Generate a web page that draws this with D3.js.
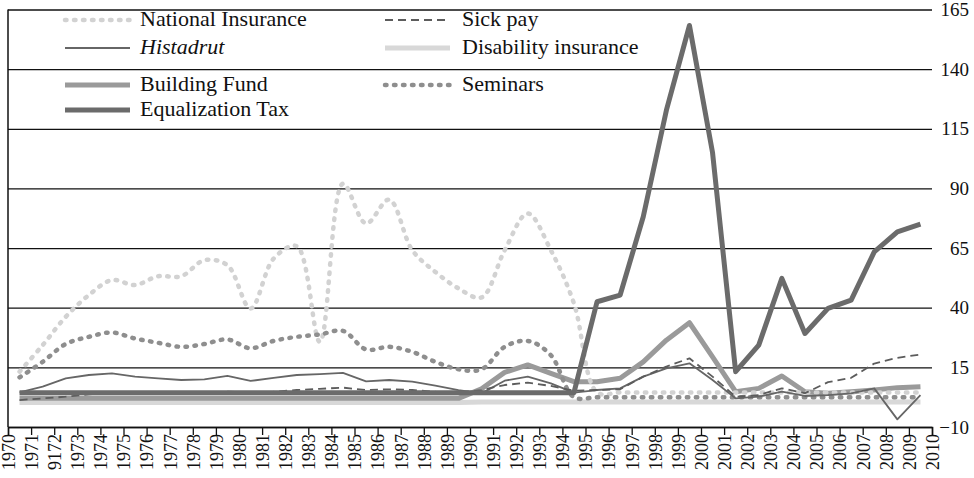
<!DOCTYPE html>
<html><head><meta charset="utf-8">
<script src="https://cdn.jsdelivr.net/npm/d3@7"></script>
<style>
html,body{margin:0;padding:0;background:#fff;}
svg text{font-family:"Liberation Serif","DejaVu Serif",serif;fill:#111;}
</style></head>
<body>
<svg id="chart" width="974" height="478"></svg>
<script>
// ---- data ----
const tickLabels = ["1970","1971","9172","1973","1974","1975","1976","1977","1978","1979","1980","1981","1982","1983","1984","1985","1986","1987","1988","1989","1990","1991","1992","1993","1994","1995","1996","1997","1998","1999","2000","2001","2002","2003","2004","2005","2006","2007","2008","2009","2010"];
const yTicks = [-10, 15, 40, 65, 90, 115, 140, 165];

const nationalInsurance = [13.2,24.3,36.2,45.3,51.6,49.5,53.2,53.2,59.9,57.8,39.7,60.6,65.8,25.7,92,75.3,85.3,64.1,55,48.1,44.3,64.1,79.5,64.1,41.8,4.5,4.5,4.5,4.5,4.5,4.5,4.5,4.5,4.5,4.5,4.5,4.5,4.5,4.5,4.5];
const sickPay = [1.3,2,2.7,3.7,4.1,4.1,4.1,4.1,4.1,4.8,4.4,4.8,5.5,6,6.5,5.5,5.8,5.5,4.8,4.4,5.5,7.6,8.6,7.2,5.2,5.5,5.8,11.1,15.3,18.8,11.1,2.7,3.4,6.2,4.2,8.8,10.6,16.6,19,20.4];
const histadrut = [4.5,6.9,10.4,11.8,12.5,11.1,10.4,9.7,10,11.4,9.3,10.6,11.8,12.2,12.7,9.1,9.7,9,7.3,5.5,4.1,9.4,11.1,8.3,4.4,5.5,6.2,11.1,14.6,16.7,9.7,2,2.7,4.8,3,3.4,4.1,6.2,-6.8,3.4];
const disabilityInsurance = [0.3,0.3,0.3,0.3,0.3,0.3,0.3,0.3,0.3,0.3,0.3,0.3,0.3,0.3,0.3,0.3,0.3,0.3,0.3,0.3,0.5,0.5,0.5,0.5,0.5,0.5,0.5,0.5,0.5,0.5,0.5,0.5,0.5,0.5,0.5,0.5,0.5,0.5,0.5,0.5];
const buildingFund = [2,2,2,2,2,2,2,2,2,2,2,2,2,2,2,2,2,2,2,2,6,12.9,16,12.5,9,9,10.4,17.3,26.4,33.7,19.4,4.8,6.2,11.4,4.8,4.1,4.8,5.5,6.5,6.9];
const seminars = [10.8,17.3,24.8,27.8,29.6,27.1,25.3,23.6,24.8,26.7,23,26.1,27.8,28.8,30.3,22.5,23.6,21.5,17.3,14.2,14.2,23.6,26.1,20.1,2.5,2.5,2.5,2.5,2.5,2.5,2.5,2.5,2.5,2.5,2.5,2.5,2.5,2.5,2.5,2.5];
const equalizationTax = [4.4,4.4,4.4,4.4,4.4,4.4,4.4,4.4,4.4,4.4,4.4,4.4,4.4,4.4,4.4,4.4,4.4,4.4,4.4,4.4,4.4,4.4,4.4,4.4,4.4,42.5,45.3,78.1,122.7,158.3,105,13.2,24.3,52.3,29.2,39.7,43.2,63.4,71.8,75];

const seriesNames = ["National Insurance","Sick pay","Histadrut","Disability insurance","Building Fund","Seminars","Equalization Tax"];

// ---- styles ----
const styles = {
  "National Insurance": {color:"#d2d2d2", width:4.5, dash:"1.5 7.5", cap:"round", smooth:true},
  "Sick pay": {color:"#5c5c5c", width:1.8, dash:"8 5", cap:"butt"},
  "Histadrut": {color:"#666666", width:1.8, dash:null, cap:"butt"},
  "Disability insurance": {color:"#d8d8d8", width:5, dash:null, cap:"butt"},
  "Building Fund": {color:"#9a9a9a", width:5, dash:null, cap:"butt"},
  "Seminars": {color:"#8e8e8e", width:4.5, dash:"1.5 7.5", cap:"round", smooth:true},
  "Equalization Tax": {color:"#6b6b6b", width:5, dash:null, cap:"butt"}
};
const seriesData = {
  "National Insurance": nationalInsurance,
  "Sick pay": sickPay,
  "Histadrut": histadrut,
  "Disability insurance": disabilityInsurance,
  "Building Fund": buildingFund,
  "Seminars": seminars,
  "Equalization Tax": equalizationTax
};

const svg = d3.select("#chart");
const mLeft = 8, mRight = 932, mTop = 9.5, mBottom = 427;
const x = d3.scaleLinear().domain([0, 40]).range([mLeft, mRight]);
const y = d3.scaleLinear().domain([-10, 165]).range([mBottom, mTop]);

// gridlines
svg.append("g").attr("transform", `translate(${mLeft},0)`)
  .call(d3.axisRight(y).tickValues(yTicks).tickSize(mRight-mLeft).tickFormat(""))
  .call(g => g.select(".domain").remove())
  .call(g => g.selectAll("line").attr("stroke", "#111").attr("stroke-width", 1.3));

// left frame line
svg.append("line").attr("x1", mLeft).attr("x2", mLeft).attr("y1", y(165)).attr("y2", mBottom)
  .attr("stroke", "#111").attr("stroke-width", 1.5);

// right labels
svg.append("g").attr("transform", `translate(${mRight},0)`)
  .call(d3.axisRight(y).tickValues(yTicks).tickSize(0).tickPadding(37))
  .call(g => g.select(".domain").remove())
  .call(g => g.selectAll("text").attr("text-anchor", "end").attr("font-size", 19)
      .style("font-family", '"Liberation Serif",serif'));

// x axis
const xAxis = svg.append("g").attr("transform", `translate(0,${mBottom})`)
  .call(d3.axisBottom(x).tickValues(d3.range(41)).tickSize(8).tickFormat(i => tickLabels[i]));
xAxis.select(".domain").attr("stroke", "#111").attr("stroke-width", 1.5);
xAxis.selectAll(".tick line").attr("stroke", "#111").attr("stroke-width", 1.3);
xAxis.selectAll(".tick text")
  .attr("transform", "rotate(-90)")
  .attr("text-anchor", "end")
  .attr("x", -7).attr("y", 0).attr("dy", "0.35em")
  .attr("font-size", 18)
  .style("font-family", '"Liberation Serif",serif');

// lines
const lineSmooth = d3.line().x((d, i) => x(i + 0.5)).y(d => y(d)).curve(d3.curveCatmullRom.alpha(0.5));
const lineStraight = d3.line().x((d, i) => x(i + 0.5)).y(d => y(d));
const drawOrder = ["Disability insurance","Building Fund","National Insurance","Seminars","Histadrut","Sick pay","Equalization Tax"];
drawOrder.forEach(name => {
  const s = styles[name];
  svg.append("path").datum(seriesData[name])
    .attr("d", s.smooth ? lineSmooth : lineStraight)
    .attr("fill", "none")
    .attr("stroke", s.color)
    .attr("stroke-width", s.width)
    .attr("stroke-linecap", s.cap)
    .attr("stroke-linejoin", "round")
    .attr("stroke-dasharray", s.dash);
});

// legend
const legendItems = [
  {name:"National Insurance", col:0, by:26},
  {name:"Sick pay", col:1, by:26},
  {name:"Histadrut", col:0, by:54, italic:true},
  {name:"Disability insurance", col:1, by:54},
  {name:"Building Fund", col:0, by:91},
  {name:"Seminars", col:1, by:91},
  {name:"Equalization Tax", col:0, by:116}
];
const colX = [[65,130,140],[385,450,462]];
const lg = svg.append("g");
legendItems.forEach(it => {
  const s = styles[it.name];
  const [x1, x2, tx] = colX[it.col];
  lg.append("line").attr("x1", x1).attr("x2", x2).attr("y1", it.by-6).attr("y2", it.by-6)
    .attr("stroke", s.color).attr("stroke-width", s.width)
    .attr("stroke-linecap", s.cap).attr("stroke-dasharray", s.dash);
  lg.append("text").attr("x", tx).attr("y", it.by).attr("font-size", 22)
    .attr("font-style", it.italic ? "italic" : null).text(it.name);
});
</script>
</body></html>
